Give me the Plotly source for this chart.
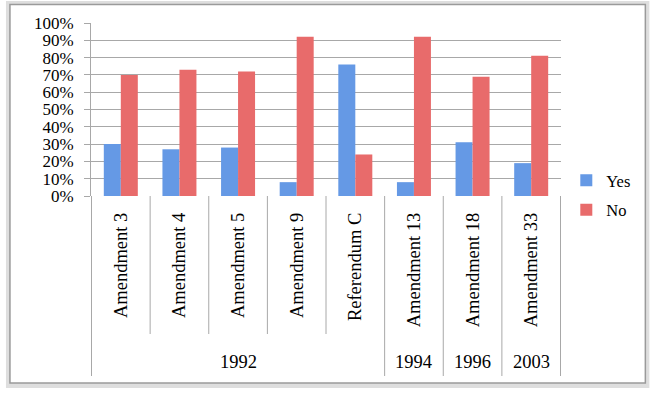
import plotly.graph_objects as go

years = ["1992", "1992", "1992", "1992", "1992", "1994", "1996", "2003"]
measures = ["Amendment 3", "Amendment 4", "Amendment 5", "Amendment 9",
            "Referendum C", "Amendment 13", "Amendment 18", "Amendment 33"]
yes_vals = [0.30, 0.27, 0.28, 0.08, 0.76, 0.08, 0.31, 0.19]
no_vals = [0.70, 0.73, 0.72, 0.92, 0.24, 0.92, 0.69, 0.81]
y_ticks = [0, 0.1, 0.2, 0.3, 0.4, 0.5, 0.6, 0.7, 0.8, 0.9, 1.0]

FONT = "Liberation Serif"
GRID = "#a8a8a8"

fig = go.Figure()
fig.add_trace(go.Bar(x=measures, y=yes_vals, name="Yes",
                     marker=dict(color="#6599e5", line=dict(width=0)),
                     legendgroup="a"))
fig.add_trace(go.Bar(x=measures, y=no_vals, name="No",
                     marker=dict(color="#e86b6b", line=dict(width=0)),
                     legendgroup="b"))

# plot area in pixels
L, R, T, B = 91, 560.7, 23, 196
W, H = R - L, B - T
def px(x): return (x - L) / W
def py(y): return (B - y) / H

shapes = [
    dict(type="rect", xref="paper", yref="paper", layer="below",
         x0=px(6), x1=px(649), y0=py(388), y1=py(1),
         fillcolor="#dedede", line=dict(width=0)),
    dict(type="rect", xref="paper", yref="paper", layer="below",
         x0=px(10), x1=px(645), y0=py(383), y1=py(4.5),
         fillcolor="white", line=dict(color="#9a9a9a", width=1.5)),
]

# category boundaries: short inside a year group, long at group edges
n = len(measures)
annotations = []
start = 0
for i in range(n + 1):
    group_edge = i == 0 or i == n or years[i] != years[i - 1]
    shapes.append(dict(type="line", xref="x", yref="paper",
                       x0=i - 0.5, x1=i - 0.5, y0=0,
                       y1=py(376) if group_edge else py(334),
                       line=dict(color=GRID, width=1)))
    if group_edge and i > 0:
        annotations.append(dict(xref="x", yref="paper", x=(start + i - 1) / 2,
                                y=py(362), text=years[i - 1], showarrow=False,
                                font=dict(family=FONT, size=18.5),
                                xanchor="center", yanchor="middle"))
        start = i

fig.update_layout(
    width=650, height=395,
    margin=dict(l=L, r=650 - R, t=T, b=395 - B, autoexpand=False),
    paper_bgcolor="white", plot_bgcolor="rgba(0,0,0,0)",
    barmode="group", bargap=0.42, bargroupgap=0,
    font=dict(family=FONT, size=17, color="black"),
    showlegend=True,
    legend=dict(x=px(566), y=py(195), xanchor="left", yanchor="middle",
                font=dict(family=FONT, size=16.5), tracegroupgap=5,
                traceorder="grouped", itemwidth=30, bgcolor="rgba(0,0,0,0)"),
    shapes=shapes, annotations=annotations,
)
fig.update_yaxes(range=[0, 1], tickvals=y_ticks, tickformat=".0%",
                 showgrid=True, gridcolor=GRID, gridwidth=1,
                 showline=True, linecolor=GRID, linewidth=1,
                 ticks="outside", ticklen=6, tickcolor=GRID,
                 ticklabelstandoff=7,
                 tickfont=dict(family=FONT, size=17), zeroline=False)
fig.update_xaxes(type="category", tickangle=-90, showline=False,
                 showgrid=False, ticks="", ticklabelstandoff=12,
                 tickfont=dict(family=FONT, size=18.5))

fig.write_html("out.html", config={"displayModeBar": False},
               post_script="document.body.style.margin='0';")
